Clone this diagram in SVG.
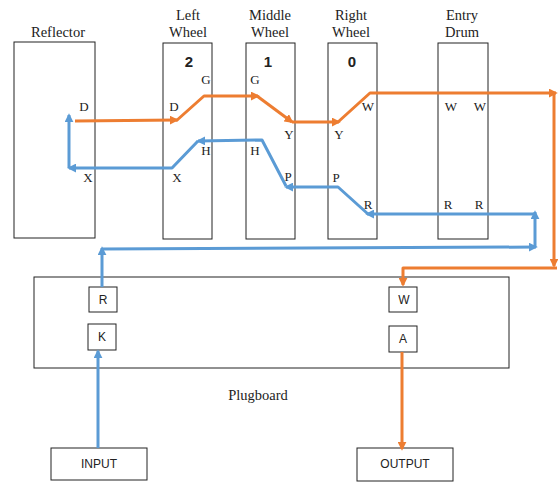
<svg xmlns="http://www.w3.org/2000/svg" width="558" height="483" viewBox="0 0 558 483">
<defs>
<marker id="ao" viewBox="0 0 10 10" refX="8" refY="5" markerWidth="3" markerHeight="3" orient="auto"><path d="M0,0 L10,5 L0,10 z" fill="#ED7D31"/></marker>
<marker id="ab" viewBox="0 0 10 10" refX="8" refY="5" markerWidth="3" markerHeight="3" orient="auto"><path d="M0,0 L10,5 L0,10 z" fill="#5B9BD5"/></marker>
<style>
.box{fill:#fff;stroke:#222;stroke-width:1}
.title{font-family:"Liberation Serif",serif;font-size:14.5px;fill:#222;text-anchor:middle}
.pin{font-family:"Liberation Serif",serif;font-size:13px;fill:#222;text-anchor:middle}
.num{font-family:"Liberation Sans",Arial,sans-serif;font-size:15px;font-weight:bold;fill:#222;text-anchor:middle}
.lab{font-family:"Liberation Sans",Arial,sans-serif;font-size:12px;fill:#222;text-anchor:middle}
.o{fill:none;stroke:#ED7D31;stroke-width:3;marker-end:url(#ao);stroke-linejoin:round}
.b{fill:none;stroke:#5B9BD5;stroke-width:3;marker-end:url(#ab);stroke-linejoin:round}
</style>
</defs>
<rect width="558" height="483" fill="#fff"/>
<g id="reflector">
<rect class="box" x="14" y="42" width="81" height="196"/>
<text class="title" x="58" y="37">Reflector</text>
<text class="pin" x="84" y="111">D</text>
<text class="pin" x="88" y="182">X</text>
</g>
<g id="left-wheel">
<rect class="box" x="163" y="43" width="49" height="196"/>
<text class="title" x="188" y="20">Left</text>
<text class="title" x="188" y="37">Wheel</text>
<text class="num" x="189" y="67">2</text>
<text class="pin" x="206" y="84">G</text>
<text class="pin" x="174" y="111">D</text>
<text class="pin" x="206" y="155">H</text>
<text class="pin" x="177" y="182">X</text>
</g>
<g id="middle-wheel">
<rect class="box" x="246" y="43" width="49" height="196"/>
<text class="title" x="270" y="20">Middle</text>
<text class="title" x="270" y="37">Wheel</text>
<text class="num" x="268" y="67">1</text>
<text class="pin" x="255" y="84">G</text>
<text class="pin" x="289" y="139">Y</text>
<text class="pin" x="255" y="155">H</text>
<text class="pin" x="288" y="181">P</text>
</g>
<g id="right-wheel">
<rect class="box" x="328" y="43" width="49" height="196"/>
<text class="title" x="351" y="20">Right</text>
<text class="title" x="351" y="37">Wheel</text>
<text class="num" x="352" y="67">0</text>
<text class="pin" x="368" y="111">W</text>
<text class="pin" x="339" y="139">Y</text>
<text class="pin" x="336" y="182">P</text>
<text class="pin" x="368" y="209">R</text>
</g>
<g id="entry-drum">
<rect class="box" x="438" y="43" width="50" height="196"/>
<text class="title" x="462" y="20">Entry</text>
<text class="title" x="462" y="37">Drum</text>
<text class="pin" x="451" y="111">W</text>
<text class="pin" x="480" y="111">W</text>
<text class="pin" x="448" y="209">R</text>
<text class="pin" x="479" y="209">R</text>
</g>
<g id="plugboard">
<rect class="box" x="34" y="277" width="475" height="91"/>
<text class="title" x="258" y="400">Plugboard</text>
</g>
<g id="plug-R"><rect class="box" x="89" y="287" width="28" height="25"/><text class="lab" x="103" y="304">R</text></g>
<g id="plug-K"><rect class="box" x="88" y="324" width="28" height="26"/><text class="lab" x="102" y="341">K</text></g>
<g id="plug-W"><rect class="box" x="389" y="287" width="28" height="25"/><text class="lab" x="404" y="304">W</text></g>
<g id="plug-A"><rect class="box" x="389" y="326" width="28" height="26"/><text class="lab" x="403" y="343">A</text></g>
<g id="input"><rect class="box" x="51" y="448" width="96" height="32"/><text class="lab" x="99" y="468">INPUT</text></g>
<g id="output"><rect class="box" x="357" y="448" width="96" height="33"/><text class="lab" x="405" y="468">OUTPUT</text></g>
<g id="connectors">
<path class="o" d="M75,121 L177,120"/>
<path class="o" d="M176,121 L204,96 L258,96"/>
<path class="o" d="M257,96 L292,122"/>
<path class="o" d="M292,122 L339,122"/>
<path class="o" d="M338,122 L370,93 L556,93"/>
<path class="o" d="M554,93 L554,266"/>
<path class="o" d="M557,268 L403,268 L403,285"/>
<path class="o" d="M402,352 L402,449"/>
<path class="b" d="M98,448 L98,351"/>
<path class="b" d="M102,287 L102,248"/>
<path class="b" d="M102,249 L536,247"/>
<path class="b" d="M535,247 L535,212"/>
<path class="b" d="M535,214 L367,214"/>
<path class="b" d="M368,214 L338,187 L286,187"/>
<path class="b" d="M286,186 L262,140 L198,141"/>
<path class="b" d="M198,141 L172,168 L69,168"/>
<path class="b" d="M69,168 L69,115"/>
</g>
</svg>
